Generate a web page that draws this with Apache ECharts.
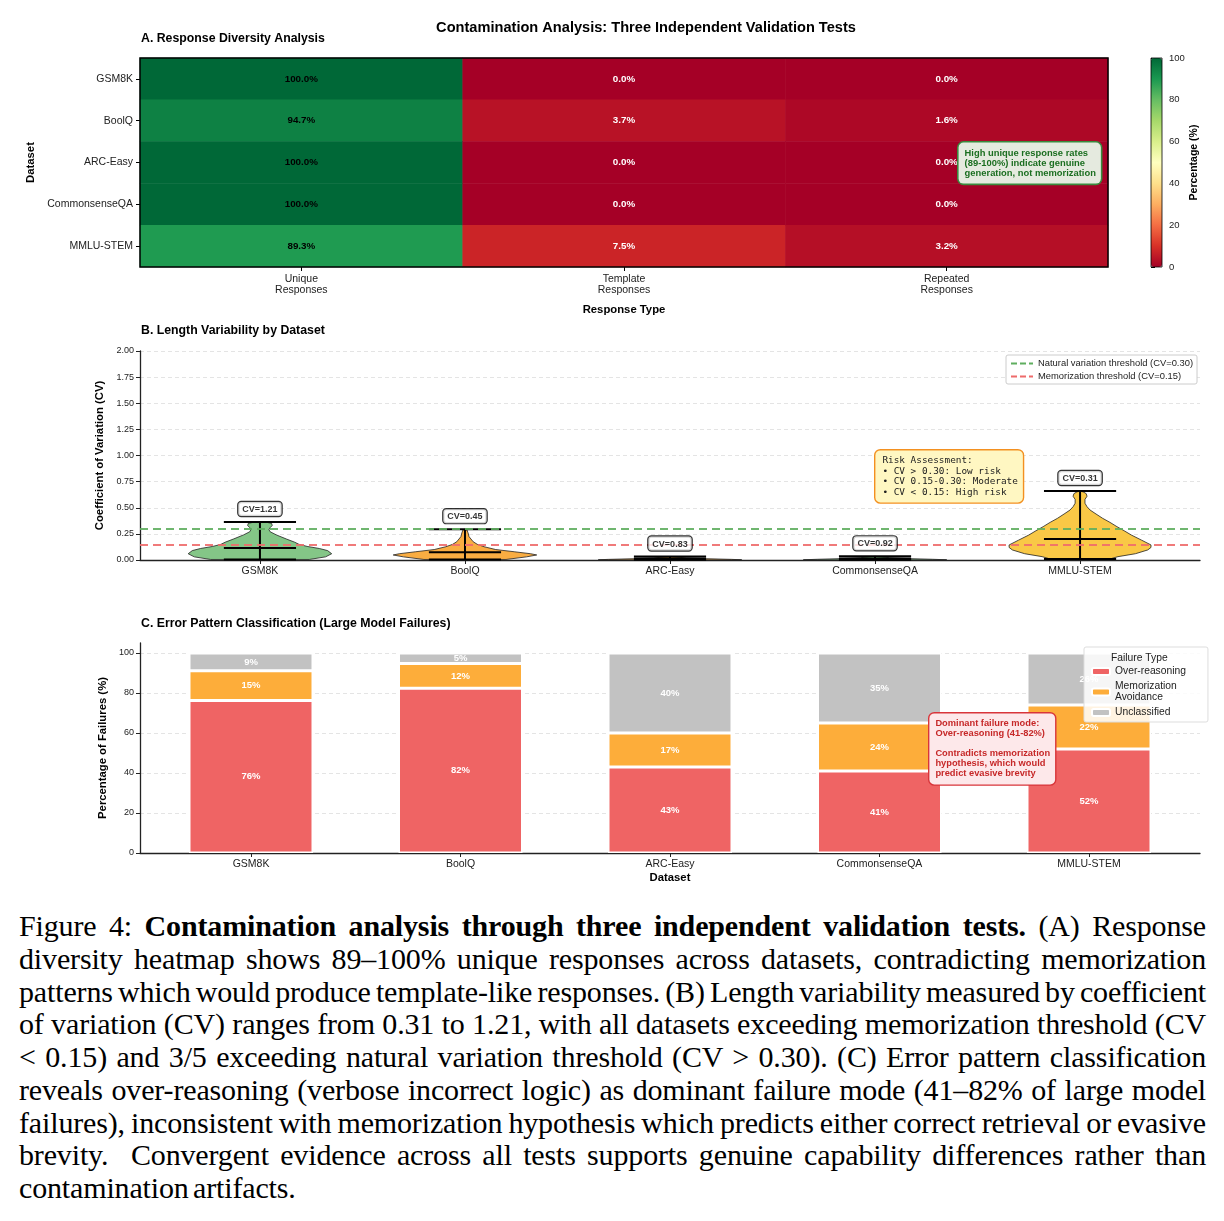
<!DOCTYPE html>
<html>
<head>
<meta charset="utf-8">
<script src="https://cdn.jsdelivr.net/npm/echarts@6/dist/echarts.min.js"></script>
<style>
  body { margin: 0; background: #fff; }
  #chart { position: absolute; left: 0; top: 0; width: 1224px; height: 895px; }
  .caption {
    position: absolute; left: 19px; top: 910px; width: 1187px;
    font-family: "Liberation Serif", "Times New Roman", serif;
    font-size: 30px; line-height: 32.75px; color: #000;
    word-spacing: -3px; letter-spacing: -0.15px;
  }
  .caption div { text-align: justify; text-align-last: justify; }
  .caption div.last { text-align-last: left; }
</style>
</head>
<body>
<div id="chart"></div>
<div class="caption">
  <div>Figure 4: <b>Contamination analysis through three independent validation tests.</b> (A) Response</div>
  <div>diversity heatmap shows 89–100% unique responses across datasets, contradicting memorization</div>
  <div>patterns which would produce template-like responses. (B) Length variability measured by coefficient</div>
  <div>of variation (CV) ranges from 0.31 to 1.21, with all datasets exceeding memorization threshold (CV</div>
  <div>&lt; 0.15) and 3/5 exceeding natural variation threshold (CV &gt; 0.30). (C) Error pattern classification</div>
  <div>reveals over-reasoning (verbose incorrect logic) as dominant failure mode (41–82% of large model</div>
  <div>failures), inconsistent with memorization hypothesis which predicts either correct retrieval or evasive</div>
  <div>brevity.&nbsp; Convergent evidence across all tests supports genuine capability differences rather than</div>
  <div class="last">contamination artifacts.</div>
</div>
<script>
// ---- data ----
const datasets = ["GSM8K", "BoolQ", "ARC-Easy", "CommonsenseQA", "MMLU-STEM"]
const responseTypes = ["Unique\nResponses", "Template\nResponses", "Repeated\nResponses"]

// A: response diversity (%)
const uniquePct = [100.0, 94.7, 100.0, 100.0, 89.3]
const templatePct = [0.0, 3.7, 0.0, 0.0, 7.5]
const repeatedPct = [0.0, 1.6, 0.0, 0.0, 3.2]

// B: length variability
const cvValues = [1.21, 0.45, 0.83, 0.92, 0.31]
const cvMax = [0.364, 0.295, 0.033, 0.035, 0.66]
const cvMean = [0.115, 0.075, 0.014, 0.014, 0.2]
const cvMin = [0.005, 0.005, 0.002, 0.002, 0.01]
const naturalThreshold = 0.30
const memorizationThreshold = 0.15
// violin outlines: [cv, half width in category units]
const gsm8kViolin = [[0.005, 0.24], [0.03, 0.32], [0.06, 0.35], [0.09, 0.33], [0.11, 0.29], [0.13, 0.23], [0.15, 0.19], [0.17, 0.17], [0.2, 0.13], [0.24, 0.08], [0.27, 0.05], [0.29, 0.044], [0.31, 0.05], [0.33, 0.06], [0.35, 0.057], [0.36, 0.035], [0.364, 0]]
const boolqViolin = [[0.005, 0.2], [0.03, 0.3], [0.048, 0.35], [0.06, 0.32], [0.079, 0.24], [0.1, 0.15], [0.127, 0.093], [0.15, 0.06], [0.175, 0.04], [0.223, 0.02], [0.26, 0.015], [0.287, 0.01], [0.295, 0]]
const arcViolin = [[0.002, 0.35], [0.006, 0.3], [0.012, 0.18], [0.02, 0.08], [0.028, 0.03], [0.033, 0]]
const csqaViolin = [[0.002, 0.35], [0.007, 0.28], [0.013, 0.17], [0.022, 0.07], [0.03, 0.03], [0.035, 0]]
const mmluViolin = [[0.01, 0.146], [0.032, 0.185], [0.06, 0.27], [0.096, 0.33], [0.12, 0.346], [0.144, 0.346], [0.19, 0.3], [0.239, 0.25], [0.28, 0.215], [0.319, 0.18], [0.36, 0.146], [0.399, 0.11], [0.44, 0.078], [0.478, 0.049], [0.51, 0.034], [0.543, 0.024], [0.58, 0.024], [0.61, 0.034], [0.635, 0.03], [0.652, 0.015], [0.66, 0]]

// C: error patterns (%)
const overReasoning = [76.3, 82.4, 43, 41, 52]
const memorizationAvoidance = [14.8, 12.3, 17, 24, 22]
const unclassified = [8.9, 5.3, 40, 35, 26]

// ---- styling ----
const FONT = "'Liberation Sans', Arial, sans-serif"
const rdYlGn = ["#a50026", "#d73027", "#f46d43", "#fdae61", "#fee08b", "#ffffbf", "#d9ef8b", "#a6d96a", "#66bd63", "#1a9850", "#006837"]
const violinColors = ["#84c687", "#f9ad42", "#f9ad42", "#84c687", "#f9c846"]
const violinProfiles = [gsm8kViolin, boolqViolin, arcViolin, csqaViolin, mmluViolin]
const statHalf = 0.176

const heatData = []
datasets.forEach((d, r) => {
  ;[uniquePct[r], templatePct[r], repeatedPct[r]].forEach((v, c) => {
    heatData.push({ value: [c, r, v], label: { color: v > 50 ? "#000" : "#fff" } })
  })
})

const chart = echarts.init(document.getElementById("chart"), null, { renderer: "canvas" })

function violinItem(params, api) {
  const i = params.dataIndex
  const prof = violinProfiles[i]
  const right = prof.map(([v, w]) => api.coord([i + w, v]))
  const left = prof.slice().reverse().map(([v, w]) => api.coord([i - w, v]))
  const seg = (x1, y1, x2, y2) => {
    const a = api.coord([x1, y1])
    const b = api.coord([x2, y2])
    return { type: "line", shape: { x1: a[0], y1: a[1], x2: b[0], y2: b[1] }, style: { stroke: "#000", lineWidth: 2 } }
  }
  return {
    type: "group",
    children: [
      { type: "polygon", shape: { points: right.concat(left) }, style: { fill: violinColors[i], stroke: "#222", lineWidth: 0.8 } },
      seg(i, cvMin[i], i, cvMax[i]),
      seg(i - statHalf, cvMax[i], i + statHalf, cvMax[i]),
      seg(i - statHalf, cvMean[i], i + statHalf, cvMean[i]),
      seg(i - statHalf, cvMin[i], i + statHalf, cvMin[i])
    ]
  }
}

const axisLabel = { color: "#222", fontSize: 10.5, fontFamily: FONT }
const axisNameStyle = { color: "#000", fontSize: 11.3, fontWeight: "bold", fontFamily: FONT }
const spine = { show: true, onZero: false, lineStyle: { color: "#222", width: 1.3 } }
const dashedGrid = { show: true, showMaxLine: false, lineStyle: { color: "#ddd", type: [4, 3], width: 0.8 } }
const titleStyle = { fontSize: 12.3, fontWeight: "bold", color: "#000" }

chart.setOption({
  animation: false,
  textStyle: { fontFamily: FONT },
  title: [
    { text: "Contamination Analysis: Three Independent Validation Tests", left: 646, top: 20, textAlign: "center", padding: 0,
      textStyle: { fontSize: 14.6, fontWeight: "bold", color: "#000" } },
    { text: "A. Response Diversity Analysis", left: 141, top: 33, padding: 0, textStyle: titleStyle },
    { text: "B. Length Variability by Dataset", left: 141, top: 325, padding: 0, textStyle: titleStyle },
    { text: "C. Error Pattern Classification (Large Model Failures)", left: 141, top: 618, padding: 0, textStyle: titleStyle }
  ],
  grid: [
    { left: 140, top: 58, width: 968, height: 209, show: true, z: 10, borderColor: "#000", borderWidth: 1.5, backgroundColor: "transparent" },
    { left: 1151, top: 58, width: 11, height: 209, show: true, z: 10, borderColor: "#000", borderWidth: 0.8, backgroundColor: "transparent" },
    { left: 140, top: 351, width: 1060, height: 209 },
    { left: 140, top: 643, width: 1060, height: 210 },
    // bar layout grid: category bands matching the spacing of the visible axis above
    { left: 146.25, top: 643, width: 1047.5, height: 210 }
  ],
  visualMap: {
    type: "continuous", seriesIndex: 0, dimension: 2, min: 0, max: 100,
    left: 1151, top: 58, itemWidth: 11, itemHeight: 209, padding: 0,
    calculable: false, text: null, showLabel: false,
    inRange: { color: rdYlGn }
  },
  xAxis: [
    { gridIndex: 0, type: "category", data: responseTypes,
      axisLine: { show: false }, axisTick: { show: true, alignWithLabel: true, length: 4, lineStyle: { color: "#000" } },
      axisLabel: { ...axisLabel, margin: 6, lineHeight: 11.5 },
      name: "Response Type", nameLocation: "middle", nameGap: 37, nameTextStyle: axisNameStyle },
    { gridIndex: 1, type: "value", show: false },
    { gridIndex: 2, type: "value", min: -0.585, max: 4.585,
      axisLine: spine, splitLine: { show: false },
      axisTick: { show: true, customValues: [0, 1, 2, 3, 4], length: 4, lineStyle: { color: "#222" } },
      axisLabel: { ...axisLabel, margin: 6, customValues: [0, 1, 2, 3, 4], formatter: v => datasets[Math.round(v)] } },
    { gridIndex: 3, type: "value", min: -0.53, max: 4.53,
      axisLine: spine, splitLine: { show: false },
      axisTick: { show: true, customValues: [0, 1, 2, 3, 4], length: 4, lineStyle: { color: "#222" } },
      axisLabel: { ...axisLabel, margin: 6, customValues: [0, 1, 2, 3, 4], formatter: v => datasets[Math.round(v)] },
      name: "Dataset", nameLocation: "middle", nameGap: 19, nameTextStyle: axisNameStyle },
    { gridIndex: 4, type: "category", data: datasets, show: false }
  ],
  yAxis: [
    { gridIndex: 0, type: "category", data: datasets, inverse: true,
      axisLine: { show: false }, axisTick: { show: true, alignWithLabel: true, length: 4, lineStyle: { color: "#000" } },
      axisLabel: { ...axisLabel, margin: 7 },
      name: "Dataset", nameLocation: "middle", nameGap: 103, nameRotate: 90, nameTextStyle: axisNameStyle },
    { gridIndex: 1, type: "value", position: "right", min: 0, max: 100, interval: 20,
      axisLine: { show: false }, splitLine: { show: false },
      axisTick: { show: true, length: 4, lineStyle: { color: "#000" } },
      axisLabel: { color: "#222", fontSize: 9.5, margin: 7 },
      name: "Percentage (%)", nameLocation: "middle", nameGap: 25, nameRotate: 90, nameTextStyle: { ...axisNameStyle, fontSize: 10.5 } },
    { gridIndex: 2, type: "value", min: 0, max: 2, interval: 0.25,
      axisLine: spine, axisTick: { show: true, length: 4, lineStyle: { color: "#222" } },
      axisLabel: { color: "#222", fontSize: 9, margin: 6, formatter: v => v.toFixed(2) },
      splitLine: { ...dashedGrid, showMaxLine: true },
      name: "Coefficient of Variation (CV)", nameLocation: "middle", nameGap: 30, nameRotate: 90, nameTextStyle: axisNameStyle },
    { gridIndex: 3, type: "value", min: 0, max: 105, interval: 20,
      axisLine: spine, axisTick: { show: true, length: 4, lineStyle: { color: "#222" } },
      axisLabel: { color: "#222", fontSize: 9, margin: 6, showMaxLabel: false },
      splitLine: dashedGrid,
      name: "Percentage of Failures (%)", nameLocation: "middle", nameGap: 27, nameRotate: 90, nameTextStyle: axisNameStyle },
    { gridIndex: 4, type: "value", min: 0, max: 105, show: false }
  ],
  legend: [
    { data: ["Natural variation threshold (CV=0.30)", "Memorization threshold (CV=0.15)"],
      orient: "vertical", left: 1006, top: 355, padding: [4, 4, 3, 4], itemGap: 4, itemWidth: 22, itemHeight: 9,
      itemStyle: { opacity: 0 },
      backgroundColor: "#fff", borderColor: "#ccc", borderWidth: 1, borderRadius: 2,
      textStyle: { fontSize: 9.4, color: "#222" } },
    { data: ["Over-reasoning", "Memorization Avoidance", "Unclassified"],
      orient: "vertical", left: 1084, top: 647, padding: [19, 22, 4, 7], itemGap: 4, itemWidth: 18, itemHeight: 7,
      backgroundColor: "rgba(255,255,255,0.85)", borderColor: "#ddd", borderWidth: 1, borderRadius: 2,
      formatter: n => n === "Memorization Avoidance" ? "Memorization\nAvoidance" : n,
      textStyle: { fontSize: 10.3, color: "#222", lineHeight: 11 } }
  ],
  graphic: [
    { type: "text", left: 957, top: 141, z: 20,
      style: { text: "High unique response rates\n(89-100%) indicate genuine\ngeneration, not memorization",
        font: "bold 9.4px " + FONT, fill: "#1b6e20", lineHeight: 10, backgroundColor: "#e5eadf",
        borderColor: "#3a8a3e", borderWidth: 1.6, borderRadius: 5, padding: [6, 5, 5, 6] } },
    { type: "text", left: 874, top: 449, z: 20,
      style: { text: "Risk Assessment:\n• CV > 0.30: Low risk\n• CV 0.15-0.30: Moderate\n• CV < 0.15: High risk",
        font: "9.4px 'DejaVu Sans Mono', monospace", fill: "#222", lineHeight: 10.5, backgroundColor: "#fff7c2",
        borderColor: "#f39020", borderWidth: 1.4, borderRadius: 5, padding: [5, 5, 5, 7] } },
    { type: "text", left: 928, top: 712, z: 20,
      style: { text: "Dominant failure mode:\nOver-reasoning (41-82%)\n\nContradicts memorization\nhypothesis, which would\npredict evasive brevity",
        font: "bold 9.3px " + FONT, fill: "#c62828", lineHeight: 10, backgroundColor: "#fde8ea",
        borderColor: "#d8353a", borderWidth: 1.4, borderRadius: 5, padding: [5, 5, 6, 6] } },
    { type: "text", left: 1111, top: 653, z: 20,
      style: { text: "Failure Type", font: "10.3px " + FONT, fill: "#222" } }
  ],
  series: [
    { type: "heatmap", xAxisIndex: 0, yAxisIndex: 0, data: heatData,
      label: { show: true, fontSize: 9.8, fontWeight: "bold", formatter: p => p.value[2].toFixed(1) + "%" } },
    { type: "custom", xAxisIndex: 2, yAxisIndex: 2, renderItem: violinItem,
      data: datasets.map((d, i) => [i, cvMax[i]]), encode: { x: 0, y: 1 } },
    { name: "Natural variation threshold (CV=0.30)", type: "line", xAxisIndex: 2, yAxisIndex: 2, data: [], z: 5,
      symbol: "none", itemStyle: { color: "#5fae5f" }, lineStyle: { color: "#5fae5f", width: 2, type: [6, 3] },
      markLine: { silent: true, symbol: "none", label: { show: false },
        lineStyle: { color: "#5fae5f", width: 2, type: [8, 5], opacity: 0.9 }, data: [{ yAxis: naturalThreshold }] } },
    { name: "Memorization threshold (CV=0.15)", type: "line", xAxisIndex: 2, yAxisIndex: 2, data: [], z: 5,
      symbol: "none", itemStyle: { color: "#ee6b6b" }, lineStyle: { color: "#ee6b6b", width: 2, type: [6, 3] },
      markLine: { silent: true, symbol: "none", label: { show: false },
        lineStyle: { color: "#ee6b6b", width: 2, type: [8, 5], opacity: 0.9 }, data: [{ yAxis: memorizationThreshold }] } },
    // CV labels above each violin, drawn over the threshold lines
    { type: "scatter", xAxisIndex: 2, yAxisIndex: 2, z: 8, symbolSize: 0, silent: true,
      data: datasets.map((d, i) => [i, cvMax[i]]),
      label: { show: true, position: "top", distance: 6, formatter: p => "CV=" + cvValues[p.dataIndex].toFixed(2),
        color: "#000", fontSize: 9, fontWeight: "bold", backgroundColor: "#fff",
        borderColor: "#000", borderWidth: 1.2, borderRadius: 3, padding: [3, 4, 2, 4] } },
    ...[
      ["Over-reasoning", overReasoning, "#ef6464"],
      ["Memorization Avoidance", memorizationAvoidance, "#fdad3a"],
      ["Unclassified", unclassified, "#c2c2c2"]
    ].map(([name, vals, color]) => ({
      name, type: "bar", stack: "total", xAxisIndex: 4, yAxisIndex: 4, barWidth: 124,
      data: vals,
      itemStyle: { color, borderColor: "#fff", borderWidth: 1.5 },
      label: { show: true, position: "inside", color: "#fff", fontSize: 9.5, fontWeight: "bold",
        formatter: p => Math.round(p.value) + "%" }
    }))
  ]
})
</script>
</body>
</html>
